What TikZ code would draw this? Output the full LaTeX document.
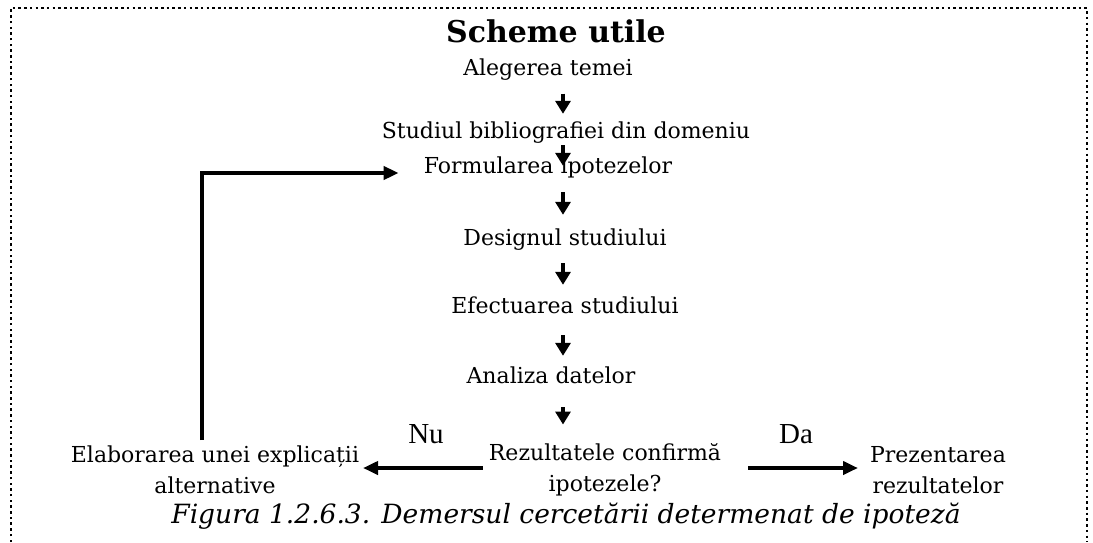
\documentclass[tikz,border=0pt]{standalone}
\usepackage{fontspec}
\setmainfont{DejaVu Serif}
\newfontfamily\labelfont{Liberation Serif}
\usetikzlibrary{arrows.meta,calc}
\begin{document}
\begin{tikzpicture}[x=1pt,y=-1pt,
  step text/.style={font=\fontsize{22}{31}\selectfont, align=center, inner sep=0pt,
    text height=16pt, text depth=5pt},
  pair text/.style={font=\fontsize{22}{31}\selectfont, align=center, inner sep=0pt},
  flow/.style={line width=3.5pt, -{Triangle[length=13pt,width=15pt]}},
  branch/.style={line width=4pt, -{Triangle[length=15pt,width=13pt]}},
  answer/.style={font=\labelfont\fontsize{29}{32}\selectfont, inner sep=0pt, anchor=base},
  frame/.style={line width=2.5pt, dash pattern=on 2.5pt off 3.2pt}]
\useasboundingbox (0,0) rectangle (1093,542);
% dotted frame, open at the bottom
\draw[frame] (11,542) -- (11,8) -- (1087,8) -- (1087,542);

\node[font=\bfseries\fontsize{30}{34}\selectfont, inner sep=0pt] (title) at (556,31) {Scheme utile};

% column of the arrows
\coordinate (col) at (563,0);

% main sequence of steps
\node[step text] (s1) at (548,70)  {Alegerea temei};
\node[step text] (s2) at (566,133) {Studiul bibliografiei din domeniu};
\node[step text] (s3) at (548,168) {Formularea ipotezelor};
\node[step text] (s4) at (565,240) {Designul studiului};
\node[step text] (s5) at (565,308) {Efectuarea studiului};
\node[step text] (s6) at (551,378) {Analiza datelor};

% decision and its two outcomes
\node[pair text] (q)   at (605,470) {Rezultatele confirmă\\ipotezele?};
\node[pair text] (alt) at (215,470) {Elaborarea unei explicații\\alternative};
\node[pair text] (res) at (938,470) {Prezentarea\\rezultatelor};

\node[answer] (nu) at (426,443) {Nu};
\node[answer] (da) at (796,443) {Da};

\node[font=\itshape\fontsize{26.5}{30}\selectfont, inner sep=0pt] (cap) at (566,516)
  {Figura 1.2.6.3. Demersul cercetării determenat de ipoteză};

% downward arrows between steps
\draw[flow] ($(s1.south -| col)+(0,13)$)   -- ($(s2.north -| col)+(0,-8.5)$);
\draw[flow] ($(s2.south -| col)+(0,1.5)$)  -- ($(s3.north -| col)+(0,8.5)$);
\draw[flow] ($(s3.south -| col)+(0,13.5)$) -- ($(s4.north -| col)+(0,-14.5)$);
\draw[flow] ($(s4.south -| col)+(0,12.5)$) -- ($(s5.north -| col)+(0,-12.5)$);
\draw[flow] ($(s5.south -| col)+(0,16.5)$) -- ($(s6.north -| col)+(0,-11.5)$);
\draw[flow] ($(s6.south -| col)+(0,18.5)$) -- ($(q.north -| col)+(0,-19)$);

% branches of the decision
\coordinate (nuEnd) at (363,468);
\coordinate (daEnd) at (858,468);
\draw[branch] ($(q.west)+(-6,-2)$) -- (nuEnd);
\draw[branch] ($(q.east)+(27,-2)$) -- (daEnd);

% feedback loop back to the hypotheses
\coordinate (loopFoot) at (202,440);
\draw[branch] (loopFoot) |- ($(s3.west)+(-25,5)$);
\end{tikzpicture}
\end{document}
